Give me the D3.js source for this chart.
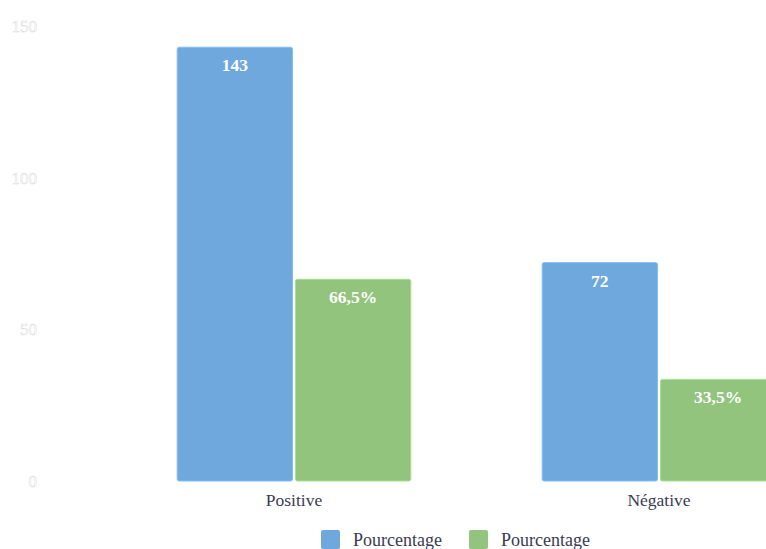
<!DOCTYPE html>
<html>
<head>
<meta charset="utf-8">
<script src="https://cdn.jsdelivr.net/npm/d3@7"></script>
<style>
  html, body { margin: 0; padding: 0; background: #fff; overflow: hidden; }
  svg { display: block; }
</style>
</head>
<body>
<svg id="chart" width="766" height="549"></svg>
<script>
// Categories and series
const categories = ["Positive", "Négative"];
const countValues = [143, 72];
const percentValues = [66.5, 33.5];
const seriesNames = ["Pourcentage", "Pourcentage"];
const seriesColors = ["#6fa8dc", "#93c47d"];
const yTicks = [0, 50, 100, 150];

const width = 766, height = 549;
const svg = d3.select("#chart");

const y = d3.scaleLinear().domain([0, 150]).range([481, 26]);
const x = d3.scaleBand().domain(categories).range([111.5, 841.5]).paddingInner(0.36).paddingOuter(0.18);
const xs = d3.scaleBand().domain([0, 1]).range([0, x.bandwidth()]).paddingInner(0.025);

const serif = "'Liberation Serif', 'DejaVu Serif', serif";

// Y axis labels (outlined white text)
const yAxis = d3.axisLeft(y).tickValues(yTicks).tickSize(0).tickPadding(0);
const gy = svg.append("g").attr("transform", "translate(37,0)").call(yAxis);
gy.select(".domain").remove();
gy.attr("font-family", serif);
gy.selectAll("text")
  .attr("font-family", serif)
  .attr("font-size", 17)
  .attr("fill", "#ffffff")
  .attr("stroke", "#dcdcdc")
  .attr("stroke-width", 0.5)
  .attr("text-anchor", "end");

// Rows joining both series per category
const rows = categories.map((c, i) => ({
  cat: c,
  vals: [
    { s: 0, v: countValues[i], label: String(countValues[i]) },
    { s: 1, v: percentValues[i], label: d3.format(".1f")(percentValues[i]).replace(".", ",") + "%" }
  ]
}));

const groups = svg.append("g").selectAll("g").data(rows).join("g")
  .attr("transform", d => `translate(${x(d.cat)},0)`);

groups.selectAll("rect").data(d => d.vals).join("rect")
  .attr("x", d => xs(d.s))
  .attr("y", d => y(d.v))
  .attr("width", xs.bandwidth())
  .attr("height", d => y(0) - y(d.v))
  .attr("rx", 2).attr("ry", 2)
  .attr("fill", d => seriesColors[d.s])
  .attr("stroke", d => d3.color(seriesColors[d.s]).brighter(0.35))
  .attr("stroke-width", 1);

groups.selectAll("text").data(d => d.vals).join("text")
  .attr("x", d => xs(d.s) + xs.bandwidth() / 2)
  .attr("y", d => y(d.v) + 24)
  .attr("text-anchor", "middle")
  .attr("font-family", serif)
  .attr("font-weight", "bold")
  .attr("font-size", 17.5)
  .attr("fill", "#ffffff")
  .text(d => d.label);

// X axis labels
const xAxis = d3.axisBottom(x).tickSize(0).tickPadding(0);
const gx = svg.append("g").attr("transform", "translate(0,494)").call(xAxis);
gx.select(".domain").remove();
gx.attr("font-family", serif);
gx.selectAll("text")
  .attr("font-family", serif)
  .attr("font-size", 17.5)
  .attr("fill", "#3b3b52");

// Legend
const legendX = [321, 469];
const legend = svg.append("g").selectAll("g").data(seriesNames).join("g")
  .attr("transform", (d, i) => `translate(${legendX[i]},530)`);
legend.append("rect")
  .attr("width", 19).attr("height", 19).attr("rx", 2)
  .attr("fill", (d, i) => seriesColors[i]);
legend.append("text")
  .attr("x", 32).attr("y", 16)
  .attr("font-family", serif)
  .attr("font-size", 18)
  .attr("fill", "#3b3b52")
  .text(d => d);
</script>
</body>
</html>
